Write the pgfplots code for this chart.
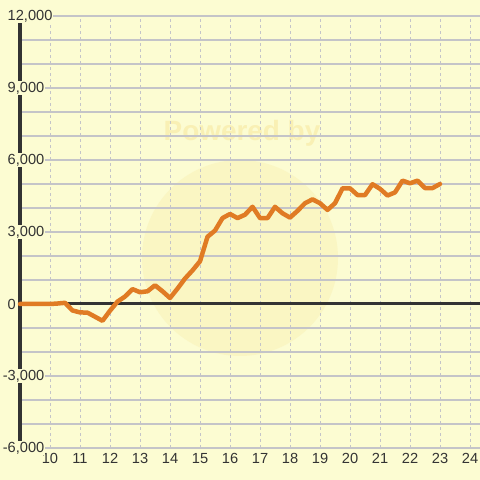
\documentclass[border=0pt]{standalone}
\usepackage{fontspec}
\setmainfont{Liberation Sans}
\usepackage{pgfplots}
\pgfplotsset{compat=1.18}
\definecolor{bg}{HTML}{FCFCD2}
\definecolor{gridc}{HTML}{C4C4C8}
\definecolor{axc}{HTML}{333333}
\definecolor{linec}{HTML}{E07B24}
\definecolor{wm}{HTML}{F8EBA8}
\tikzset{ylab/.style={anchor=west, fill=bg, inner sep=1bp,
      font=\fontsize{14.7}{16}\selectfont, text=axc}}

\begin{document}
\begin{tikzpicture}
\path[use as bounding box, fill=bg] (-20bp,-32bp) rectangle (460bp,448bp);
% faint watermark
\fill[wm, opacity=0.35] (220bp,190bp) circle (98bp);
\node[font=\bfseries\fontsize{28}{28}\selectfont, text=wm, opacity=0.7] at (222bp,315bp) {Powered by};
\begin{axis}[
    name=ax,
    scale only axis,
    width=460bp, height=432bp,
    xmin=9, xmax=24.333,
    ymin=-6000, ymax=12000,
    axis line style={draw=none},
    xtick={10,...,24},
    ytick={-6000,-3000,0,3000,6000,9000,12000},
    yticklabels={},
    scaled y ticks=false,
    minor ytick={-5000,-4000,...,11000},
    major tick length=0pt, minor tick length=0pt,
    ymajorgrids, yminorgrids, xmajorgrids,
    y grid style={gridc, line width=1.2bp},
    minor y grid style={gridc, line width=1.2bp},
    x grid style={gridc, line width=0.9bp, dash pattern=on 3bp off 3bp},
    tick label style={font=\fontsize{14.7}{16}\selectfont, text=axc},
    xticklabel style={yshift=-2bp},
    /pgf/number format/assume math mode=true,
    clip=false,
]
\draw[axc, line width=3bp] (axis cs:9,-6000) -- (axis cs:9,11700);
\draw[axc, line width=3bp] (axis cs:9,0) -- (axis cs:24.333,0);
\addplot[linec, line width=4.5bp, line join=round, line cap=round, no marks] coordinates {
(9,0) (9.25,0) (9.5,0) (9.75,0) (10,0) (10.25,20) (10.5,50)
(10.75,-270) (11,-350) (11.25,-360) (11.5,-530) (11.75,-700)
(12,-280) (12.25,100) (12.5,310) (12.75,620) (13,490) (13.25,530)
(13.5,780) (13.75,530) (14,250) (14.25,640) (14.5,1060) (14.75,1400)
(15,1780) (15.25,2800) (15.5,3060) (15.75,3580) (16,3750) (16.25,3580)
(16.5,3720) (16.75,4050) (17,3580) (17.25,3580) (17.5,4050) (17.75,3780)
(18,3600) (18.25,3880) (18.5,4200) (18.75,4360) (19,4200) (19.25,3920)
(19.5,4200) (19.75,4820) (20,4820) (20.25,4540) (20.5,4540) (20.75,4990)
(21,4800) (21.25,4520) (21.5,4650) (21.75,5140) (22,5030) (22.25,5140)
(22.5,4830) (22.75,4830) (23,5000)
};
\end{axis}
% y tick labels, drawn last so they sit over grid and axis line
\node[ylab] at (-13.5bp,432bp) {12,000};
\node[ylab] at (-13.5bp,360bp) {9,000};
\node[ylab] at (-13.5bp,288bp) {6,000};
\node[ylab] at (-13.5bp,216bp) {3,000};
\node[ylab] at (-13.5bp,144bp) {0};
\node[ylab] at (-13.5bp,72bp) {\llap{-}3,000};
\node[ylab] at (-13.5bp,0bp) {\llap{-}6,000};
\end{tikzpicture}
\end{document}
